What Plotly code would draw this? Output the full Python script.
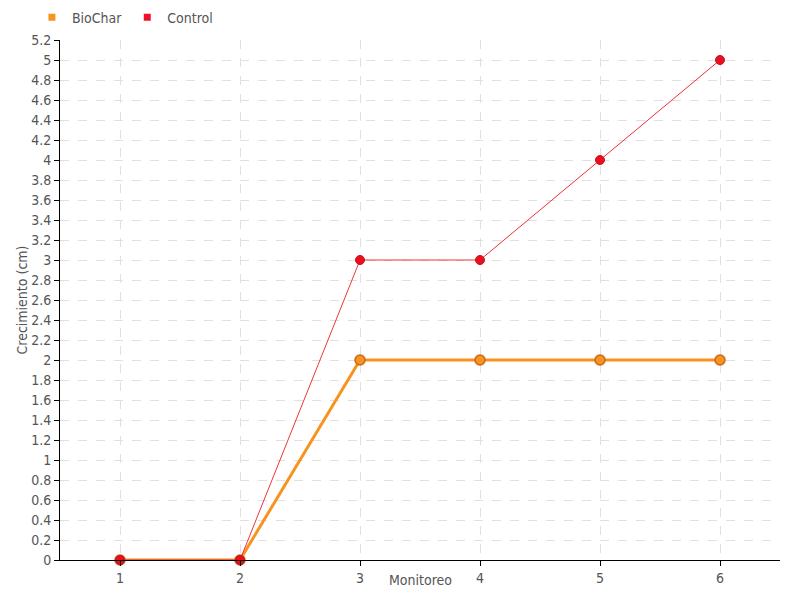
import plotly.graph_objects as go

monitoreo = [1, 2, 3, 4, 5, 6]
biochar = [0, 0, 2, 2, 2, 2]
control = [0, 0, 3, 3, 4, 5]
ytick_vals = [round(i * 0.2, 1) for i in range(27)]
ytick_text = [("%g" % v) for v in ytick_vals]

FONT = "DejaVu Sans Condensed, Liberation Sans Narrow, sans-serif"

fig = go.Figure()
fig.add_trace(go.Scatter(x=monitoreo, y=biochar, mode="lines+markers", name="BioChar",
                         line=dict(color="#f7931e", width=3),
                         marker=dict(size=10, color="#f7931e", line=dict(color="#c8691a", width=1.5)),
                         showlegend=False, cliponaxis=False))
fig.add_trace(go.Scatter(x=monitoreo, y=control, mode="lines+markers", name="Control",
                         line=dict(color="#f0323c", width=1),
                         marker=dict(size=9, color="#e8101e", line=dict(color="#c8101e", width=1)),
                         showlegend=False, cliponaxis=False))
# legend-only entries with square symbols
fig.add_trace(go.Scatter(x=[None], y=[None], mode="markers", name="BioChar",
                         marker=dict(symbol="square", size=7, color="#f7931e")))
fig.add_trace(go.Scatter(x=[None], y=[None], mode="markers", name="Control",
                         marker=dict(symbol="square", size=7, color="#f0102a")))

axis_common = dict(showline=True, linecolor="black", linewidth=1,
                   ticks="outside", tickcolor="black", ticklen=5,
                   showgrid=True, gridcolor="#e0e0e0", griddash="dash", gridwidth=1,
                   zeroline=False, automargin=False,
                   tickfont=dict(family=FONT, size=14, color="#555"),
                   title_font=dict(family=FONT, size=14, color="#555"))

fig.update_layout(
    width=800, height=600,
    paper_bgcolor="white", plot_bgcolor="white",
    margin=dict(l=52, r=28, t=32, b=48, autoexpand=False),
    font=dict(family=FONT, color="#555", size=14),
    legend=dict(orientation="h", x=-0.039, y=1.012, yanchor="bottom",
                xanchor="left", font=dict(family=FONT, size=14, color="#555"),
                bgcolor="rgba(0,0,0,0)", itemwidth=30, tracegroupgap=0),
    xaxis=dict(range=[0.5, 6.5], tickvals=monitoreo, ticktext=[str(m) for m in monitoreo],
               **axis_common),
    yaxis=dict(range=[0, 5.2], tickvals=ytick_vals, ticktext=ytick_text,
               title=dict(text="Crecimiento (cm)", standoff=0), **axis_common),
    annotations=[dict(text="Monitoreo", xref="paper", yref="paper", x=0.5, y=-0.0385,
                      xanchor="center", yanchor="middle", showarrow=False,
                      font=dict(family=FONT, size=14, color="#555"))],
)
fig.write_html("out.html")
